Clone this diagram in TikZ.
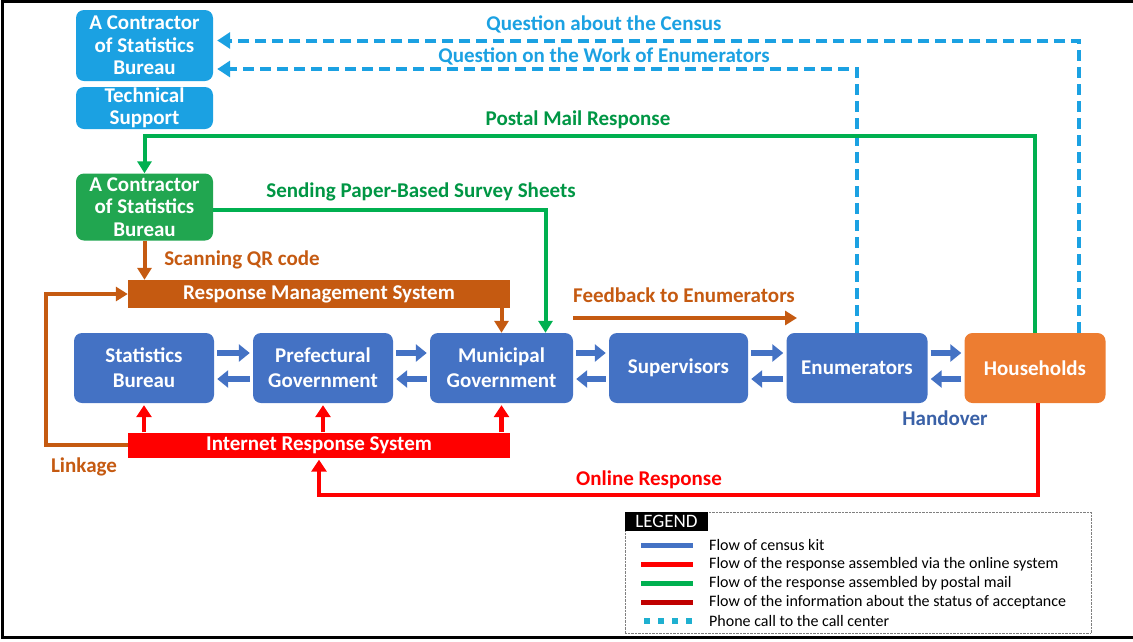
\documentclass[tikz,border=0pt]{standalone}
\usepackage{fontspec}
\setmainfont{Carlito}
\usepackage{tikz}
\usetikzlibrary{arrows.meta}

\definecolor{kitblue}{HTML}{4472C4}
\definecolor{callblue}{HTML}{1BA1E2}
\definecolor{mailgreen}{HTML}{00B050}
\definecolor{boxgreen}{HTML}{21A650}
\definecolor{rmsbrown}{HTML}{C55A11}
\definecolor{netred}{HTML}{FF0000}
\definecolor{hhorange}{HTML}{ED7D31}
\definecolor{darkred}{HTML}{C00000}
\definecolor{legcyan}{HTML}{1FB0D0}

\begin{document}
\begin{tikzpicture}[
  x=1pt, y=-1pt,
  box/.style={rounded corners=8pt, text=white, align=center, inner sep=0pt,
    font=\fontsize{21}{25}\selectfont\bfseries, minimum width=140pt, minimum height=70pt},
  kbox/.style={box, fill=kitblue},
  cbox/.style={box, font=\fontsize{21}{22.5}\selectfont\bfseries, minimum width=137pt},
  sys/.style={text=white, inner sep=0pt, font=\fontsize{21}{22}\selectfont\bfseries,
    minimum width=382pt},
  lbl/.style={font=\fontsize{21}{22}\selectfont\bfseries},
  kit/.style={-{Triangle[length=11pt,width=17pt]}, line width=6pt, kitblue,
    shorten <=3pt, shorten >=3pt},
  call/.style={-{Triangle[length=13pt,width=16pt]}, line width=4pt, callblue,
    dash pattern=on 11pt off 6pt, shorten >=4pt},
  post/.style={-{Triangle[length=12pt,width=14pt]}, line width=4pt, mailgreen},
  resp/.style={-{Triangle[length=12pt,width=14pt]}, line width=4pt, rmsbrown},
  net/.style={-{Triangle[length=12pt,width=15pt]}, line width=4.5pt, netred, shorten >=2pt},
  legtxt/.style={anchor=west, inner sep=0pt, font=\fontsize{16}{17}\selectfont},
  sample/.style={line width=5pt}
]
\useasboundingbox (0,0) rectangle (1133,641);
\draw[line width=3pt] (1133,1.5) -- (2.5,1.5) -- (2.5,637.5) -- (1133,637.5);

% contractors on the left
\node[cbox, fill=callblue, minimum height=71pt] (cont) at (144.5,45.5) {A Contractor\\of Statistics\\Bureau};
\node[cbox, fill=callblue, minimum height=42pt] (tech) at (144.5,108) {Technical\\Support};
\node[cbox, fill=boxgreen, minimum height=67pt] (gcont) at (144.5,207) {A Contractor\\of Statistics\\Bureau};

% systems
\node[sys, fill=rmsbrown, minimum height=28pt] (rms) at (319,294) {Response Management System};
\node[sys, fill=netred, minimum height=25pt] (irs) at (319,445) {Internet Response System};

% main row
\node[kbox] (sb) at (144,368) {Statistics\\Bureau};
\node[kbox] (pg) at (323,368) {Prefectural\\Government};
\node[kbox, minimum width=143pt] (mg) at (501.5,368) {Municipal\\Government};
\node[kbox, minimum width=139pt] (sup) at (678.5,368) {Supervisors};
\node[kbox, minimum width=141pt] (enu) at (857,368) {Enumerators};
\node[box, fill=hhorange, minimum width=141pt] (hh) at (1035,368) {Households};

\draw[kit] ([yshift=15pt]sb.east) -- ([yshift=15pt]pg.west);
\draw[kit] ([yshift=-11pt]pg.west) -- ([yshift=-11pt]sb.east);
\draw[kit] ([yshift=15pt]pg.east) -- ([yshift=15pt]mg.west);
\draw[kit] ([yshift=-11pt]mg.west) -- ([yshift=-11pt]pg.east);
\draw[kit] ([yshift=15pt]mg.east) -- ([yshift=15pt]sup.west);
\draw[kit] ([yshift=-11pt]sup.west) -- ([yshift=-11pt]mg.east);
\draw[kit] ([yshift=15pt]sup.east) -- ([yshift=15pt]enu.west);
\draw[kit] ([yshift=-11pt]enu.west) -- ([yshift=-11pt]sup.east);
\draw[kit] ([yshift=15pt]enu.east) -- ([yshift=15pt]hh.west);
\draw[kit] ([yshift=-11pt]hh.west) -- ([yshift=-11pt]enu.east);

% phone calls
\draw[call] ([xshift=44pt]hh.north) |- ([yshift=5pt]cont.east);
\draw[call] (enu.north) |- ([yshift=-23.5pt]cont.east);
\node[lbl, text=callblue] (qcensus) at (604,24) {Question about the Census};
\node[lbl, text=callblue] (qwork) at (604,56) {Question on the Work of Enumerators};

% postal mail
\draw[post] (hh.north) -- ++(0,-197) -| (gcont.north);
\draw[post] ([yshift=-3pt]gcont.east) -| ([xshift=44pt]mg.north);
\node[lbl, text=mailgreen!85!black] (pmail) at (578,120) {Postal Mail Response};
\node[lbl, text=mailgreen!85!black] (paper) at (421,192) {Sending Paper-Based Survey Sheets};

% response management
\draw[resp] (gcont.south) -- (gcont.south |- rms.north);
\draw[resp] (mg.north |- rms.south) -- (mg.north);
\draw[resp] (irs.west) -- ++(-82,0) |- (rms.west);
\coordinate (fbs) at (573,318);
\coordinate (fbe) at (797,318);
\draw[resp] (fbs) -- (fbe);
\node[lbl, text=rmsbrown] (qr) at (242,260) {Scanning QR code};
\node[lbl, text=rmsbrown] (link) at (84,467) {Linkage};
\node[lbl, text=rmsbrown] (fback) at (684,295) {Feedback to Enumerators};

% online response
\draw[net] (irs.north -| sb.south) -- (sb.south);
\draw[net] (irs.north -| pg.south) -- (pg.south);
\draw[net] (irs.north -| mg.south) -- (mg.south);
\draw[net] ([xshift=3pt]hh.south) -- ++(0,92) -| (irs.south);
\node[lbl, text=netred] (online) at (649,480) {Online Response};
\node[lbl, text=kitblue!85!black] (hand) at (945,418) {Handover};

% legend
\node[draw=gray, densely dotted, minimum width=466pt, minimum height=121pt, inner sep=0pt] (legend) at (858,572.5) {};
\node[fill=black, text=white, anchor=north west, minimum width=83pt, minimum height=19pt, inner sep=0pt,
  font=\fontsize{19}{19}\selectfont] (legtitle) at (legend.north west) {LEGEND};
\node[legtxt] (l1) at (709,545) {Flow of census kit};
\node[legtxt] (l2) at (709,564) {Flow of the response assembled via the online system};
\node[legtxt] (l3) at (709,583) {Flow of the response assembled by postal mail};
\node[legtxt] (l4) at (709,602) {Flow of the information about the status of acceptance};
\node[legtxt] (l5) at (709,621) {Phone call to the call center};
\draw[sample, kitblue] ([xshift=-68pt]l1.west) -- ([xshift=-16pt]l1.west);
\draw[sample, netred] ([xshift=-68pt]l2.west) -- ([xshift=-16pt]l2.west);
\draw[sample, mailgreen] ([xshift=-68pt]l3.west) -- ([xshift=-16pt]l3.west);
\draw[sample, darkred] ([xshift=-68pt]l4.west) -- ([xshift=-16pt]l4.west);
\draw[sample, legcyan, line width=6pt, dash pattern=on 6pt off 8pt] ([xshift=-65pt]l5.west) -- ([xshift=-16pt]l5.west);
\end{tikzpicture}
\end{document}
